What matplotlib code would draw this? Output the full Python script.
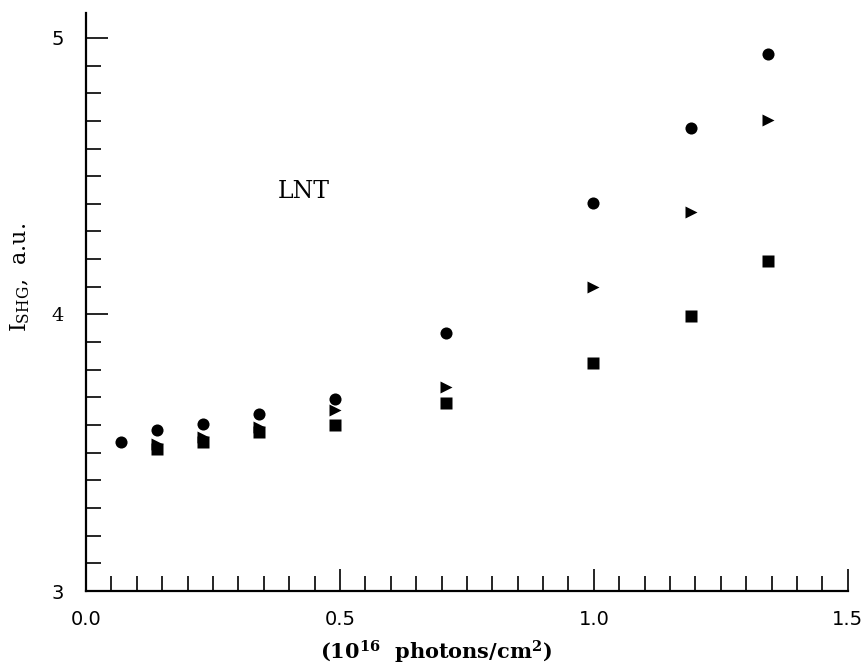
import matplotlib
matplotlib.use("Agg")
import matplotlib.pyplot as plt
from matplotlib.ticker import MultipleLocator, FixedLocator

# fluence, 10^16 photons/cm^2
x_circle = [0.068, 0.139, 0.230, 0.341, 0.491, 0.709, 0.999, 1.191, 1.343]
y_circle = [3.539, 3.582, 3.603, 3.640, 3.693, 3.934, 4.402, 4.676, 4.942]

x_tri = [0.139, 0.230, 0.341, 0.491, 0.709, 0.999, 1.191, 1.343]
y_tri = [3.531, 3.558, 3.594, 3.655, 3.739, 4.101, 4.372, 4.703]

x_square = [0.139, 0.230, 0.341, 0.491, 0.709, 0.999, 1.191, 1.343]
y_square = [3.513, 3.540, 3.576, 3.600, 3.681, 3.824, 3.996, 4.195]

x_ticks = [0.0, 0.5, 1.0, 1.5]
x_ticklabels = ["0.0", "0.5", "1.0", "1.5"]
y_ticks = [3, 4, 5]
y_ticklabels = ["3", "4", "5"]

plt.rcParams["mathtext.fontset"] = "dejavuserif"

fig = plt.figure(figsize=(8.66, 6.71), dpi=100)
ax = fig.add_axes([0.0993, 0.1192, 0.8797, 0.8614])

ms = 8.7
ax.plot(x_circle, y_circle, "o", color="black", ms=ms, mec="none")
ax.plot(x_tri, y_tri, ">", color="black", ms=ms, mec="none")
ax.plot(x_square, y_square, "s", color="black", ms=ms - 0.5, mec="none")

ax.set_xlim(0, 1.5)
ax.set_ylim(3, 5.09)

ax.spines["top"].set_visible(False)
ax.spines["right"].set_visible(False)
for s in ("left", "bottom"):
    ax.spines[s].set_linewidth(1.6)

ax.xaxis.set_major_locator(FixedLocator(x_ticks))
ax.set_xticklabels(x_ticklabels)
ax.xaxis.set_minor_locator(MultipleLocator(0.05))
ax.yaxis.set_major_locator(FixedLocator(y_ticks))
ax.set_yticklabels(y_ticklabels)
ax.yaxis.set_minor_locator(MultipleLocator(0.1))

ax.tick_params(which="both", direction="in", width=1.2, labelsize=14,
               top=False, right=False)
ax.tick_params(which="major", length=16)
ax.tick_params(which="minor", length=11)
ax.tick_params(axis="x", which="major", pad=14)
ax.tick_params(axis="y", which="major", pad=16)
# the middle y label is set in a serif face in the original
ax.get_yticklabels()[1].set_family("DejaVu Serif")

ax.text(0.429, 4.443, "LNT", fontsize=17, family="DejaVu Serif",
        ha="center", va="center")

ax.set_xlabel(r"$\mathbf{(10^{16}}$  photons/cm$\mathbf{^{2})}$",
              fontsize=15, family="DejaVu Serif", fontweight="bold")
ax.xaxis.set_label_coords(0.459, -0.083)
ax.set_ylabel(r"I$_{\rm SHG}$,  a.u.", fontsize=16, family="DejaVu Serif")
ax.yaxis.set_label_coords(-0.071, 0.543)

fig.savefig("out.png", dpi=100)
